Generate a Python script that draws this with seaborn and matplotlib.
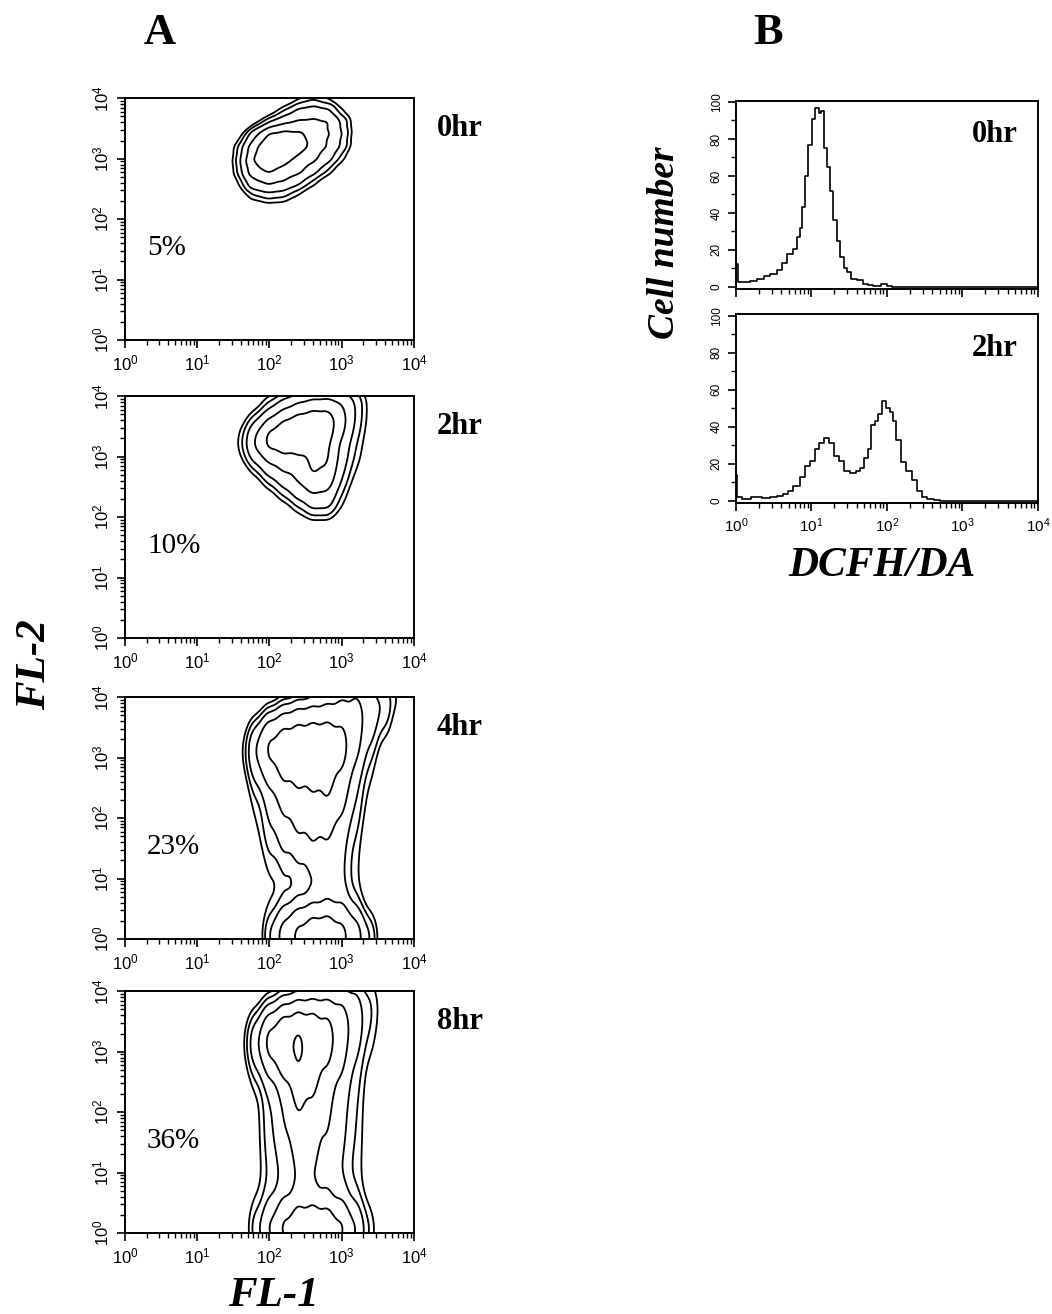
import numpy as np
import matplotlib
matplotlib.use("Agg")
import matplotlib.pyplot as plt
import seaborn as sns
from matplotlib.ticker import MultipleLocator

sns.set_theme(style="ticks")
plt.rcParams['font.family'] = ['Liberation Sans', 'DejaVu Sans']
plt.rcParams['axes.linewidth'] = 1.4
for key in ['text.color', 'axes.labelcolor', 'xtick.color', 'ytick.color', 'axes.edgecolor']:
    plt.rcParams[key] = 'black'

times = ["0hr", "2hr", "4hr", "8hr"]
percents = ["5%", "10%", "23%", "36%"]

# --- panel A: relative event density
# columns = FL-1 (decades), rows = FL-2 (decades, top row first)
fl1_early = [1.4, 1.6, 1.8, 2.0, 2.2, 2.4, 2.6, 2.8, 3.0, 3.2, 3.4, 3.6]
fl2_early = [4.0, 3.8, 3.6, 3.4, 3.2, 3.0, 2.8, 2.6, 2.4, 2.2, 2.0]

dens_0hr = [
    [0, 0, 0, 0, 0, 0.3, 0.5, 0.3, 0, 0, 0, 0],
    [0, 0, 0, 0.1, 0.5, 1.0, 1.2, 1.0, 0.3, 0, 0, 0],
    [0, 0, 0.2, 0.8, 1.5, 2.0, 2.2, 2.0, 0.8, 0.1, 0, 0],
    [0, 0.2, 1.5, 4.0, 4.5, 4.2, 3.0, 2.0, 0.9, 0.1, 0, 0],
    [0.05, 0.6, 3.0, 7.0, 7.0, 5.5, 3.0, 1.8, 0.8, 0.1, 0, 0],
    [0.05, 0.7, 4.0, 7.0, 5.0, 3.0, 2.2, 1.2, 0.4, 0, 0, 0],
    [0.05, 0.6, 3.0, 4.0, 3.0, 2.2, 1.2, 0.5, 0.1, 0, 0, 0],
    [0, 0.3, 1.5, 2.0, 1.7, 1.0, 0.4, 0.1, 0, 0, 0, 0],
    [0, 0.1, 0.5, 0.7, 0.6, 0.3, 0.1, 0, 0, 0, 0, 0],
    [0, 0, 0.1, 0.2, 0.2, 0.1, 0, 0, 0, 0, 0, 0],
    [0, 0, 0, 0, 0, 0, 0, 0, 0, 0, 0, 0],
]

dens_2hr = [
    [0, 0, 0.1, 0.5, 1.0, 1.8, 2.2, 2.4, 2.3, 1.2, 0.3, 0],
    [0, 0, 0.3, 1.2, 2.5, 3.5, 4.5, 4.5, 3.0, 1.3, 0.3, 0],
    [0, 0.2, 1.2, 3.0, 5.0, 6.5, 7.0, 7.0, 3.5, 1.2, 0.3, 0],
    [0, 0.5, 2.5, 5.5, 7.0, 7.0, 7.0, 6.5, 3.0, 1.0, 0.25, 0],
    [0, 0.6, 3.0, 6.0, 6.5, 6.5, 6.0, 5.5, 2.2, 0.8, 0.2, 0],
    [0, 0.4, 2.0, 3.5, 4.5, 4.5, 5.5, 5.5, 2.0, 0.7, 0.15, 0],
    [0, 0.1, 0.8, 2.2, 3.0, 3.5, 5.5, 5.0, 1.6, 0.5, 0, 0],
    [0, 0, 0.2, 1.0, 2.0, 2.8, 4.5, 4.0, 1.2, 0.3, 0, 0],
    [0, 0, 0, 0.3, 1.0, 2.0, 2.8, 2.6, 0.8, 0.1, 0, 0],
    [0, 0, 0, 0, 0.3, 0.9, 1.8, 1.8, 0.5, 0, 0, 0],
    [0, 0, 0, 0, 0, 0.3, 0.7, 0.7, 0.2, 0, 0, 0],
]

fl1_late = [1.6, 1.8, 2.0, 2.2, 2.4, 2.6, 2.8, 3.0, 3.2, 3.4, 3.6, 3.8]
fl2_late = [4.0, 3.6, 3.2, 2.8, 2.4, 2.0, 1.6, 1.2, 0.8, 0.4, 0.0]

dens_4hr = [
    [0, 0, 0, 0, 0.1, 0.4, 1.0, 2.0, 3.0, 2.0, 1.6, 0.9],
    [0, 0.2, 0.8, 2.2, 3.5, 4.0, 4.0, 3.8, 3.0, 2.0, 1.0, 0],
    [0.5, 3.0, 8.0, 10, 10, 10, 10, 8.0, 3.0, 1.0, 0.2, 0],
    [0.3, 1.5, 3.0, 6.0, 7.0, 7.0, 7.0, 4.0, 1.5, 0.6, 0, 0],
    [0, 0.7, 1.5, 3.0, 3.5, 4.0, 5.0, 3.0, 1.2, 0.4, 0, 0],
    [0, 0.5, 1.3, 2.0, 3.0, 3.2, 3.2, 2.0, 1.0, 0.3, 0, 0],
    [0, 0.4, 1.0, 1.5, 1.8, 2.2, 2.0, 1.4, 0.7, 0, 0, 0],
    [0, 0.2, 0.6, 0.8, 1.0, 1.3, 1.5, 1.4, 0.6, 0.1, 0, 0],
    [0, 0, 0.4, 0.6, 0.7, 0.9, 1.3, 1.3, 0.6, 0.1, 0, 0],
    [0, 0, 0.5, 0.9, 1.2, 1.6, 2.2, 2.0, 1.0, 0.3, 0, 0],
    [0, 0, 2.0, 5.0, 10, 14, 14, 10, 5.0, 2.0, 0, 0],
]

dens_8hr = [
    [0, 0, 0, 0, 0, 0.2, 0.6, 1.2, 1.2, 0.8, 0.3, 0],
    [0, 0.2, 1.0, 2.5, 4.0, 4.5, 4.0, 3.0, 1.8, 0.8, 0.3, 0],
    [0.3, 2.5, 7.0, 9.6, 9.6, 7.0, 6.0, 3.0, 1.5, 0.6, 0.1, 0],
    [0.15, 1.0, 2.5, 5.0, 6.5, 5.5, 3.5, 2.2, 0.9, 0.3, 0, 0],
    [0, 0.3, 1.0, 2.2, 5.5, 4.0, 2.5, 1.6, 0.8, 0.25, 0, 0],
    [0, 0.3, 1.0, 2.0, 3.5, 3.0, 2.3, 1.4, 0.7, 0.2, 0, 0],
    [0, 0.3, 1.0, 2.0, 2.8, 2.6, 2.0, 1.3, 0.7, 0.2, 0, 0],
    [0, 0.3, 0.8, 1.5, 2.4, 2.3, 1.6, 1.1, 0.6, 0.2, 0, 0],
    [0, 0.3, 0.7, 1.0, 1.9, 1.6, 1.4, 1.0, 0.6, 0.2, 0, 0],
    [0, 0.4, 1.0, 2.0, 2.6, 2.6, 2.4, 1.8, 0.8, 0.3, 0, 0],
    [0, 1.5, 3.5, 7.0, 10, 11, 10, 7.0, 3.5, 1.0, 0, 0],
]

# --- panel B: DCFH/DA histograms (decades, cell number)
dcf_0hr = [0.0, 0.06, 0.15, 0.23, 0.32, 0.41, 0.5, 0.59, 0.63, 0.72, 0.78, 0.83, 0.87,
           0.89, 0.94, 0.98, 1.03, 1.07, 1.12, 1.14, 1.18, 1.23, 1.27, 1.31, 1.36,
           1.4, 1.45, 1.49, 1.56, 1.64, 1.71, 1.78, 1.86, 1.97, 2.04, 2.08, 2.2, 4.0]
cells_0hr = [12.5, 2.7, 2.7, 3, 4, 5.7, 7, 9, 13, 18, 20.6, 27, 32,
             43, 60, 77, 91, 97, 94, 95, 75, 65, 52, 36, 25,
             16, 10, 8, 4, 3.6, 1.8, 0.9, 0.5, 1.4, 0.2, 0, 0, 0]

dcf_2hr = [0.0, 0.02, 0.13, 0.27, 0.4, 0.49, 0.58, 0.66, 0.71, 0.8, 0.89, 0.95, 1.02,
           1.06, 1.13, 1.2, 1.26, 1.33, 1.39, 1.46, 1.55, 1.62, 1.66, 1.73, 1.77,
           1.81, 1.86, 1.9, 1.97, 2.01, 2.06, 2.1, 2.15, 2.21, 2.3, 2.37, 2.43,
           2.5, 2.57, 2.66, 2.75, 4.0]
cells_2hr = [14, 1.8, 1, 1.8, 1.3, 1.8, 2.7, 3.6, 5.4, 8, 12.6, 19, 21.6,
             28, 31.5, 34, 31.5, 24, 21.6, 16, 15, 16, 18, 23, 28,
             41, 43, 47, 54, 50, 48, 43, 33, 21, 16, 11, 5.4,
             1.8, 0.9, 0.5, 0, 0]

serif = ['Liberation Serif', 'DejaVu Serif']


def density_points(fl1_bins, fl2_bins, dens):
    gx, gy = np.meshgrid(fl1_bins, fl2_bins)
    d = np.array(dens, dtype=float)
    keep = d > 0
    return gx[keep], gy[keep], d[keep]


fig = plt.figure(figsize=(10.52, 13.14), dpi=100)

# contour panels
panels = [(fl1_early, fl2_early, dens_0hr), (fl1_early, fl2_early, dens_2hr),
          (fl1_late, fl2_late, dens_4hr), (fl1_late, fl2_late, dens_8hr)]
bottoms = [0.7412, 0.5145, 0.2854, 0.0616]
kernel_sd = [0.1, 0.1, 0.09, 0.09]
level_sets = [[0.04, 0.07, 0.13, 0.3, 0.62]] * 3 + [[0.04, 0.07, 0.13, 0.3, 0.62, 0.985]]

for i, (fb1, fb2, dens) in enumerate(panels):
    ax = fig.add_axes([0.1188, bottoms[i], 0.2747, 0.184])
    lx, ly, w = density_points(fb1, fb2, dens)
    mx = np.average(lx, weights=w)
    sx = np.sqrt(np.average((lx - mx) ** 2, weights=w))
    sns.kdeplot(x=10 ** lx, y=10 ** ly, weights=w, log_scale=True,
                levels=level_sets[i], bw_method=kernel_sd[i] / sx, gridsize=200,
                color='black', linewidths=1.3, ax=ax)
    ax.set_xlim(1, 1e4)
    ax.set_ylim(1, 1e4)
    ax.set_xlabel("")
    ax.set_ylabel("")
    ax.tick_params(which='major', direction='out', length=6, width=1.2, labelsize=12)
    ax.tick_params(which='minor', direction='out', length=3.5, width=1.0)
    ax.tick_params(axis='y', labelrotation=90)
    for lab in ax.get_yticklabels():
        lab.set_va('center')
    ax.text(1.08, 0.875, times[i], transform=ax.transAxes, fontsize=22,
            fontweight='bold', family=serif, ha='left', va='center')
    ax.text(0.076, 0.38, percents[i], transform=ax.transAxes, fontsize=21,
            family=serif, ha='left', va='center')

# histogram panels
hists = [(dcf_0hr, cells_0hr), (dcf_2hr, cells_2hr)]
hbottoms = [0.780, 0.6172]
for i, (dcf, cells) in enumerate(hists):
    ax = fig.add_axes([0.6996, hbottoms[i], 0.287, 0.1435])
    sns.lineplot(x=10 ** np.array(dcf), y=cells, drawstyle='steps-mid',
                 color='black', linewidth=1.2, ax=ax)
    ax.set_xscale('log')
    ax.set_xlim(1, 1e4)
    ax.set_ylim(-1.2, 100.8)
    ax.yaxis.set_major_locator(MultipleLocator(20))
    ax.yaxis.set_minor_locator(MultipleLocator(10))
    ax.set_xlabel("")
    ax.set_ylabel("")
    ax.tick_params(which='major', direction='out', length=6, width=1.2)
    ax.tick_params(which='minor', direction='out', length=3.5, width=1.0)
    ax.tick_params(axis='y', labelrotation=90, labelsize=8.5)
    ax.tick_params(axis='x', labelsize=11)
    for lab in ax.get_yticklabels():
        lab.set_va('center')
    if i == 0:
        ax.tick_params(axis='x', labelbottom=False)
    ax.text(0.934, 0.82, times[i], transform=ax.transAxes, fontsize=22,
            fontweight='bold', family=serif, ha='right', va='center')

# panel letters and axis titles
fig.text(0.152, 0.975, "A", fontsize=32, fontweight='bold', family=serif,
         ha='center', va='center')
fig.text(0.730, 0.975, "B", fontsize=32, fontweight='bold', family=serif,
         ha='center', va='center')
fig.text(0.033, 0.494, "FL-2", fontsize=31, fontweight='bold', style='italic',
         family=serif, rotation=90, ha='center', va='center')
fig.text(0.260, 0.014, "FL-1", fontsize=31, fontweight='bold', style='italic',
         family=serif, ha='center', va='center')
fig.text(0.632, 0.815, "Cell number", fontsize=27, fontweight='bold',
         style='italic', family=serif, rotation=90, ha='center', va='center')
fig.text(0.838, 0.569, "DCFH/DA", fontsize=30, fontweight='bold',
         style='italic', family=serif, ha='center', va='center')

fig.savefig("out.png", dpi=100)
